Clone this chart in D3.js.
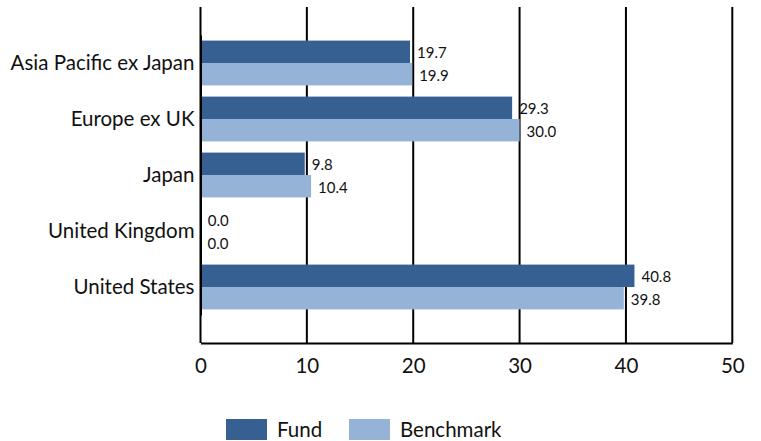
<!DOCTYPE html>
<html>
<head>
<meta charset="utf-8">
<script src="https://cdn.jsdelivr.net/npm/d3@7"></script>
<style>
  body { margin: 0; background: #fff; }
  text { font-family: Lato, "Open Sans", sans-serif; fill: #111; }
</style>
</head>
<body>
<svg id="chart" width="761" height="441"></svg>
<script>
// chart data
var regions = ['Asia Pacific ex Japan', 'Europe ex UK', 'Japan', 'United Kingdom', 'United States'];
var fund = [19.7, 29.3, 9.8, 0.03, 40.8];
var benchmark = [19.9, 30.0, 10.4, 0.0, 39.8];
var xTicks = [0, 10, 20, 30, 40, 50];
var seriesNames = ['Fund', 'Benchmark'];
var seriesColors = ['#376092', '#95b3d7'];

var svg = d3.select('#chart');

var plot = { left: 200.5, right: 732.3, top: 7, bottom: 343 };

var x = d3.scaleLinear().domain([0, 50]).range([plot.left, plot.right]);
var y = d3.scaleBand().domain(regions).range([35, 315])
    .paddingInner(0.2).paddingOuter(0.1);
var ySub = d3.scaleBand().domain(seriesNames).range([0, y.bandwidth()]);

// vertical gridlines
svg.append('g').selectAll('line')
    .data(xTicks)
    .enter().append('line')
    .attr('x1', function (d) { return x(d); })
    .attr('x2', function (d) { return x(d); })
    .attr('y1', plot.top)
    .attr('y2', plot.bottom)
    .attr('stroke', '#000')
    .attr('stroke-width', 2);

// bars
var rows = regions.map(function (r, i) {
    return { region: r, vals: [fund[i], benchmark[i]] };
});

var groups = svg.append('g').selectAll('g')
    .data(rows)
    .enter().append('g')
    .attr('transform', function (d) { return 'translate(0,' + y(d.region) + ')'; });

groups.selectAll('rect')
    .data(function (d) { return d.vals; })
    .enter().append('rect')
    .attr('x', x(0))
    .attr('y', function (d, i) { return ySub(seriesNames[i]); })
    .attr('width', function (d) { return Math.max(x(d) - x(0), d > 0 ? 1.5 : 0); })
    .attr('height', ySub.bandwidth())
    .attr('fill', function (d, i) { return seriesColors[i]; });

groups.selectAll('text')
    .data(function (d) { return d.vals; })
    .enter().append('text')
    .attr('x', function (d) { return x(d) + 7; })
    .attr('y', function (d, i) { return ySub(seriesNames[i]) + ySub.bandwidth() / 2 + 6.5; })
    .style('font-size', '15px')
    .text(function (d) { return d.toFixed(1); });

// x axis
var xAxis = d3.axisBottom(x).tickValues(xTicks).tickSize(0).tickPadding(15)
    .tickFormat(d3.format('d'));
var gx = svg.append('g')
    .attr('transform', 'translate(0,' + plot.bottom + ')')
    .call(xAxis);
gx.select('.domain').attr('stroke', '#000').attr('stroke-width', 2);
gx.selectAll('text')
    .style('font-size', '20.5px')
    .style('font-family', 'Lato, "Open Sans", sans-serif')
    .attr('fill', '#111');

// y axis
var yAxis = d3.axisLeft(y).tickSize(0).tickPadding(6);
var gy = svg.append('g')
    .attr('transform', 'translate(' + plot.left + ',0)')
    .call(yAxis);
gy.select('.domain').attr('stroke', '#000').attr('stroke-width', 2);
gy.selectAll('text')
    .style('font-size', '20.5px')
    .style('font-family', 'Lato, "Open Sans", sans-serif')
    .attr('fill', '#111');

// legend
var legendX = [226, 349];
var legend = svg.append('g').selectAll('g')
    .data(seriesNames)
    .enter().append('g')
    .attr('transform', function (d, i) { return 'translate(' + legendX[i] + ',419)'; });
legend.append('rect')
    .attr('width', 41)
    .attr('height', 21)
    .attr('fill', function (d, i) { return seriesColors[i]; });
legend.append('text')
    .attr('x', 51)
    .attr('y', 17.5)
    .style('font-size', '20.5px')
    .text(function (d) { return d; });
</script>
</body>
</html>
